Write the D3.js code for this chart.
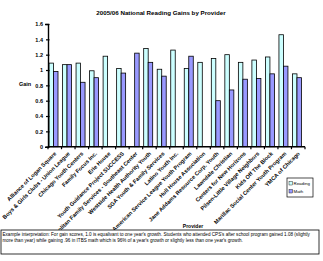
<!DOCTYPE html>
<html>
<head>
<meta charset="utf-8">
<script src="https://cdn.jsdelivr.net/npm/d3@7"></script>
<style>
  body { margin: 0; background: #fff; }
  svg { display: block; font-family: "Liberation Sans", Arial, sans-serif; }
</style>
</head>
<body>
<div id="chart"></div>
<script>
//          Chart data
var providers = [
    "Alliance of Logan Square",
    "Boys & Girls Clubs - Union League",
    "Chicago Youth Centers",
    "Family Focus Inc.",
    "Erie House",
    "Youth Guidance Project SUCCESS",
    "Metropolitan Family Services - Southeast Center",
    "Westside Health Authority Youth",
    "SGA Youth & Family Services",
    "Latino Youth Inc.",
    "Chinese American Service League Youth Program",
    "Hull House Association",
    "Jane Addams Resource Corp. Youth",
    "Lawndale Christian",
    "Centers for New Horizons",
    "Pilsen-Little Village Neighbors",
    "Kids Off The Block",
    "Marillac Social Center Youth Program",
    "YMCA of Chicago"
];
var reading = [1.09, 1.07, 1.09, 0.99, 1.18, 1.02, null, 1.28, 1.01, 1.26, 1.02, 1.10, 1.15, 1.20, 1.10, 1.13, 1.17, 1.46, 0.95];
var math    = [0.98, 1.07, 0.84, 0.90, null, 0.96, 1.22, 1.10, 0.92, null, 1.18, null, 0.60, 0.74, 0.88, 0.89, 0.95, 1.05, 0.90];
var yTicks  = [0, 0.2, 0.4, 0.6, 0.8, 1, 1.2, 1.4, 1.6];
var seriesNames = ["Reading", "Math"];
var seriesColors = ["#ccffff", "#9999ff"];

//          Chart settings
var w = 323, h = 261;
var x0Left = 48, x0Right = 305;
var yTop = 24, yBase = 146.7;

var svg = d3.select("#chart").append("svg")
    .attr("width", w)
    .attr("height", h);

var x0 = d3.scaleBand().domain(providers).range([x0Left, x0Right]).padding(0);
var x1 = d3.scaleBand().domain(seriesNames).range([1, 10]).padding(0);
var y = d3.scaleLinear().domain([0, 1.6]).range([yBase, yTop]);
var color = d3.scaleOrdinal().domain(seriesNames).range(seriesColors);

//          Title
svg.append("text")
    .attr("x", 161).attr("y", 15)
    .attr("text-anchor", "middle")
    .style("font-size", "6.2px").style("font-weight", "bold")
    .text("2005/06 National Reading Gains by Provider");

//          Bars
var rows = providers.map(function(p, i) {
    return { name: p, values: [
        { key: "Reading", v: reading[i] },
        { key: "Math", v: math[i] }
    ]};
});

var groups = svg.selectAll("g.cat").data(rows).enter().append("g")
    .attr("class", "cat")
    .attr("transform", function(d) { return "translate(" + x0(d.name) + ",0)"; });

groups.selectAll("rect")
    .data(function(d) { return d.values.filter(function(e) { return e.v != null; }); })
    .enter().append("rect")
    .attr("x", function(d) { return x1(d.key); })
    .attr("width", x1.bandwidth())
    .attr("y", function(d) { return y(d.v); })
    .attr("height", function(d) { return yBase - y(d.v); })
    .style("fill", function(d) { return color(d.key); })
    .style("stroke", "#000")
    .style("stroke-width", 0.8);

//          Y axis
var yAxis = svg.append("g")
    .attr("transform", "translate(" + x0Left + ",0)")
    .call(d3.axisLeft(y).tickValues(yTicks).tickSize(3).tickFormat(d3.format("")));
yAxis.select(".domain").attr("stroke", "#000").attr("stroke-width", 1.4);
yAxis.selectAll(".tick line").attr("x2", 1.5).attr("x1", -2).attr("stroke-width", 1.2);
yAxis.selectAll(".tick text")
    .attr("x", -5)
    .style("font-size", "5.5px").style("font-weight", "bold")
    .style("font-family", "Liberation Sans, Arial, sans-serif");

svg.append("text")
    .attr("x", 25).attr("y", 85.5)
    .attr("text-anchor", "middle")
    .style("font-size", "5.5px").style("font-weight", "bold")
    .text("Gain");

//          X axis
var xEdges = providers.map(function(p) { return x0(p); }).concat([x0Right]);
svg.append("line")
    .attr("x1", x0Left).attr("x2", x0Right)
    .attr("y1", yBase).attr("y2", yBase)
    .attr("stroke", "#000").attr("stroke-width", 1.4);
svg.selectAll("line.xtick").data(xEdges).enter().append("line")
    .attr("class", "xtick")
    .attr("x1", function(d) { return d; }).attr("x2", function(d) { return d; })
    .attr("y1", yBase).attr("y2", yBase + 2.5)
    .attr("stroke", "#000").attr("stroke-width", 1.2);

svg.selectAll("text.xlab").data(providers).enter().append("text")
    .attr("class", "xlab")
    .attr("text-anchor", "end")
    .attr("transform", function(d) {
        return "translate(" + (x0(d) + x0.bandwidth() / 2 + 2) + "," + 154 + ") rotate(-45)";
    })
    .style("font-size", "5.6px").style("font-weight", "bold")
    .text(function(d) { return d; });

svg.append("text")
    .attr("x", 193).attr("y", 228)
    .attr("text-anchor", "middle")
    .style("font-size", "5px").style("font-weight", "bold")
    .text("Provider");

//          Legend
var legend = svg.append("g").attr("transform", "translate(287,178)");
legend.append("rect")
    .attr("width", 26).attr("height", 19)
    .style("fill", "#fff").style("stroke", "#000").style("stroke-width", 0.7);
var items = legend.selectAll("g.item").data(seriesNames).enter().append("g")
    .attr("class", "item")
    .attr("transform", function(d, i) { return "translate(2," + (3.5 + i * 8) + ")"; });
items.append("rect")
    .attr("width", 3.5).attr("height", 3.5)
    .style("fill", function(d) { return color(d); })
    .style("stroke", "#000").style("stroke-width", 0.4);
items.append("text")
    .attr("x", 4.5).attr("y", 3.3)
    .style("font-size", "4.4px")
    .text(function(d) { return d; });

//          Footnote box
var note = svg.append("g").attr("transform", "translate(1,230)");
note.append("rect")
    .attr("width", 318).attr("height", 24)
    .style("fill", "#fff").style("stroke", "#000").style("stroke-width", 0.8);
var noteLines = [
    "Example interpretation:  For gain scores, 1.0 is equalivant to one year's growth.  Students who attended CPS's after school program gained 1.08 (slightly",
    "more than year) while gaining .96 in ITBS math which is 96% of a year's growth or slightly less than one year's growth."
];
note.selectAll("text").data(noteLines).enter().append("text")
    .attr("x", 1.5)
    .attr("y", function(d, i) { return 5.5 + i * 6.5; })
    .style("font-size", "4.6px")
    .text(function(d) { return d; });
</script>
</body>
</html>
